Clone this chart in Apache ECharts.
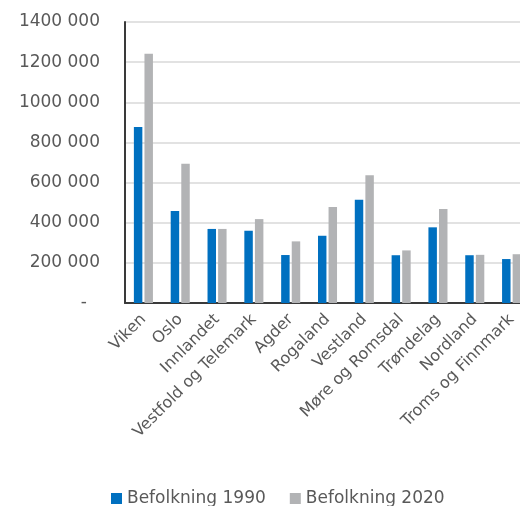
<!DOCTYPE html>
<html>
<head>
<meta charset="utf-8">
<script src="https://cdn.jsdelivr.net/npm/echarts@6/dist/echarts.min.js"></script>
<style>
  html, body { margin: 0; padding: 0; background: #fff; }
  #chart { width: 520px; height: 506px; }
</style>
</head>
<body>
<div id="chart"></div>
<script>
// Fylker (regions) and population in 1990 and 2020
const regions = ['Viken', 'Oslo', 'Innlandet', 'Vestfold og Telemark', 'Agder', 'Rogaland',
  'Vestland', 'Møre og Romsdal', 'Trøndelag', 'Nordland', 'Troms og Finnmark'];
const pop1990 = [877000, 458000, 369000, 360000, 239000, 335000, 515000, 238000, 377000, 238000, 219000];
const pop2020 = [1242000, 694000, 369000, 418000, 307000, 478000, 636000, 262000, 468000, 240000, 243000];
const seriesNames = ['Befolkning 1990', 'Befolkning 2020'];
const yTickStep = 200000;
const yTickLabels = ['-', '200 000', '400 000', '600 000', '800 000', '1000 000', '1200 000', '1400 000'];

const FONT = '"Century Gothic", "DejaVu Sans", sans-serif';
const TEXT = '#595959';

const chart = echarts.init(document.getElementById('chart'), null, { renderer: 'canvas' });
chart.setOption({
  animation: false,
  color: ['#0070C0', '#B2B3B5'],
  // plot area runs past the right edge of the canvas
  grid: { left: 125, width: 405, top: 22, bottom: 203, containLabel: false, outerBoundsMode: 'none' },
  legend: {
    data: seriesNames,
    left: 106,
    top: 485,
    icon: 'rect',
    itemWidth: 11,
    itemHeight: 11,
    itemGap: 24,
    textStyle: { fontFamily: FONT, fontSize: 17, color: TEXT }
  },
  xAxis: {
    type: 'category',
    data: regions,
    axisLine: { show: true, lineStyle: { color: '#3a3a3a', width: 2 } },
    axisTick: { show: false },
    axisLabel: {
      interval: 0,
      rotate: 45,
      margin: 14,
      fontFamily: FONT,
      fontSize: 16,
      color: TEXT
    }
  },
  yAxis: {
    type: 'value',
    min: 0,
    max: 1400000,
    interval: yTickStep,
    axisLine: { show: true, lineStyle: { color: '#3a3a3a', width: 2 } },
    axisTick: { show: false },
    splitLine: { show: true, lineStyle: { color: '#d9d9d9', width: 1.5 } },
    axisLabel: {
      margin: 25,
      fontFamily: FONT,
      fontSize: 17,
      color: TEXT,
      formatter: function (v) {
        const i = Math.round(v / yTickStep);
        return i === 0 ? '{d|' + yTickLabels[0] + '}' : yTickLabels[i];
      },
      rich: {
        d: { fontFamily: FONT, fontSize: 17, color: TEXT, padding: [0, 13, 0, 0] }
      }
    }
  },
  series: [
    { name: seriesNames[0], type: 'bar', data: pop1990, barWidth: '23%', barGap: '25%' },
    { name: seriesNames[1], type: 'bar', data: pop2020, barWidth: '23%', barGap: '25%' }
  ]
});
</script>
</body>
</html>
